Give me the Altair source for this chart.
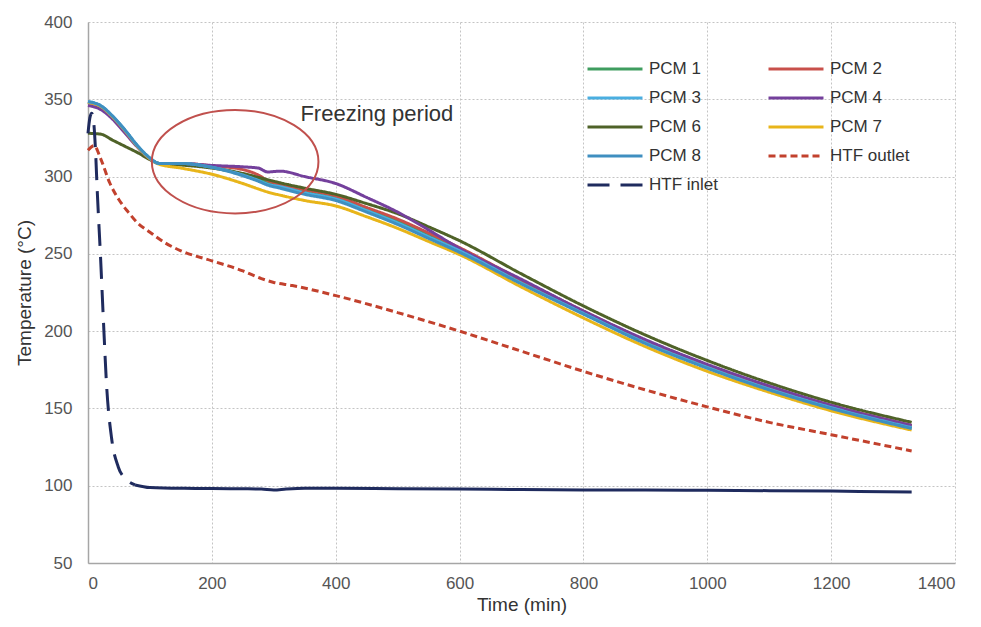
import altair as alt
import pandas as pd

# ---------------- data ----------------
time_pcm = [0, 20, 40, 60, 80, 100, 115, 150, 200, 250, 275, 290, 310, 350, 400,
            450, 500, 550, 600, 700, 800, 900, 1000, 1100, 1200, 1330]

pcm1 = [348, 345.5, 338.5, 329.5, 319.5, 311.5, 308.5, 308, 306, 301.5, 299, 296, 294, 290.5, 287,
        279.5, 271.5, 262.5, 253.5, 232.5, 212, 193, 177, 163, 151, 138]
pcm2 = [348, 345.5, 338.5, 329.5, 319.5, 311.5, 308.5, 308.5, 307, 304.5, 301, 297.5, 295, 291.5, 287.5,
        280, 272.5, 263.5, 254, 233, 213, 194, 178, 164, 152, 139]
pcm3 = [348.5, 346, 339, 330, 320, 312, 308.5, 308.5, 306, 301, 297.5, 295, 293.5, 289.5, 285.5,
        278, 270, 261, 252, 231, 211.5, 192.5, 176.5, 162.5, 150.5, 137.5]
pcm4 = [346, 343.5, 337, 328, 319, 311.5, 308.5, 308.5, 307.2, 306.3, 305.5, 303, 303.5, 300, 295.5,
        286.5, 277, 265.5, 253.5, 233.5, 213, 194.5, 178.5, 164.5, 152, 139]
pcm6 = [328, 327.5, 323.5, 319.5, 315.5, 311, 308.5, 307.5, 305.5, 302, 299.5, 298, 296, 292.5, 288.5,
        282.5, 276, 267.5, 258.5, 237, 216.3, 197.5, 181, 166.5, 154, 141]
pcm7 = [348, 345.5, 338.5, 329.5, 319.5, 311.5, 308, 305.5, 301.5, 295.5, 292, 290, 288, 284.5, 281,
        274, 266.5, 258, 249.5, 228.5, 208.5, 190, 174, 160.5, 148.5, 136]
pcm8 = [348.5, 346, 339, 330, 320, 312, 308.5, 308.5, 306, 300.5, 297, 294.5, 292.5, 288.5, 284.5,
        277, 269, 260, 251, 230.5, 211, 192, 176, 162, 150, 137]

time_outlet = [0, 10, 20, 35, 50, 65, 80, 100, 125, 150, 200, 250, 280, 300, 330, 400,
               500, 600, 700, 800, 900, 1000, 1100, 1200, 1330]
htf_outlet = [317, 320, 312, 296, 285, 277, 270, 264, 257, 252, 245.5, 239, 234, 231.5, 229.5, 223,
              212, 200, 187, 174, 162, 151, 141, 133, 122.5]

time_inlet_drop = [0, 3, 6, 9, 12, 15, 20, 25, 30, 38, 49, 62, 76]
htf_inlet_drop = [328, 338, 341, 336, 318, 290, 250, 206, 165, 131, 112, 104, 100.5]

time_inlet_flat = [76, 100, 150, 200, 250, 280, 300, 320, 350, 400, 500, 600, 700, 800,
                   900, 1000, 1100, 1200, 1330]
htf_inlet_flat = [100.5, 98.8, 98.3, 98.2, 98, 97.8, 97.2, 97.8, 98.3, 98.3, 98, 97.8, 97.5, 97.3,
                  97.2, 97, 96.8, 96.5, 96]

# legend is laid out column by column: left column first, then right column
legend_order = ["PCM 1", "PCM 3", "PCM 6", "PCM 8", "HTF inlet",
                "PCM 2", "PCM 4", "PCM 7", "HTF outlet"]
series_colors = ["#3f9d5f", "#4aaee0", "#4f6228", "#3f8fc0", "#1f2b5e",
                 "#c8504b", "#74409c", "#e8b51a", "#c2412d"]
series_dashes = [[1, 0], [1, 0], [1, 0], [1, 0], [22, 11],
                 [1, 0], [1, 0], [1, 0], [7, 4]]

# drawing order (later drawn on top)
draw_order = [("PCM 1", time_pcm, pcm1), ("PCM 2", time_pcm, pcm2), ("PCM 6", time_pcm, pcm6),
              ("PCM 4", time_pcm, pcm4), ("PCM 7", time_pcm, pcm7), ("PCM 3", time_pcm, pcm3),
              ("PCM 8", time_pcm, pcm8), ("HTF outlet", time_outlet, htf_outlet),
              ("HTF inlet", time_inlet_drop, htf_inlet_drop)]

rows = []
for name, ts, vals in draw_order:
    for t, v in zip(ts, vals):
        rows.append({"series": name, "t": t, "T": v})
df = pd.DataFrame(rows)

df_flat = pd.DataFrame({"t": time_inlet_flat, "T": htf_inlet_flat})

# annotation (ellipse centre and label anchor in data units)
ann_ellipse = pd.DataFrame({"t": [237.6], "T": [309.6]})
ann_text = pd.DataFrame({"t": [343], "T": [340.4], "label": ["Freezing period"]})

FONT = "Liberation Sans"

x_scale = alt.Scale(domain=[0, 1400], nice=False, zero=False)
y_scale = alt.Scale(domain=[50, 400], nice=False, zero=False)

x_axis = alt.Axis(values=list(range(0, 1401, 200)), title="Time (min)", ticks=False,
                  labelPadding=12, titlePadding=4, format="d")
y_axis = alt.Axis(values=list(range(50, 401, 50)), title="Temperature (°C)", ticks=False,
                  labelPadding=16, titlePadding=9, format="d")

legend = alt.Legend(
    orient="none", legendX=516, legendY=36, columns=2, title=None,
    symbolType="M-3,0L3,0", symbolSize=336, symbolStrokeWidth=3,
    labelOffset=23, labelFontSize=17, labelFont=FONT, labelColor="#333333",
    rowPadding=10, columnPadding=44, padding=0, symbolFillColor="transparent",
)

lines = alt.Chart(df).mark_line(strokeWidth=3, interpolate="monotone").encode(
    x=alt.X("t:Q", scale=x_scale, axis=x_axis),
    y=alt.Y("T:Q", scale=y_scale, axis=y_axis),
    color=alt.Color("series:N", scale=alt.Scale(domain=legend_order, range=series_colors),
                    legend=legend),
    strokeDash=alt.StrokeDash("series:N", scale=alt.Scale(domain=legend_order, range=series_dashes),
                              legend=legend),
    detail="series:N",
)

flat = alt.Chart(df_flat).mark_line(strokeWidth=3, color="#1f2b5e", interpolate="monotone").encode(
    x=alt.X("t:Q", scale=x_scale),
    y=alt.Y("T:Q", scale=y_scale),
)

k = 0.5523
r = 0.62
ellipse_path = (f"M-1,0 C-1,{-r*k:.4f} {-k:.4f},{-r} 0,{-r} "
                f"C{k:.4f},{-r} 1,{-r*k:.4f} 1,0 "
                f"C1,{r*k:.4f} {k:.4f},{r} 0,{r} "
                f"C{-k:.4f},{r} -1,{r*k:.4f} -1,0 Z")

ellipse = alt.Chart(ann_ellipse).mark_point(
    shape=ellipse_path, size=27756, filled=False, stroke="#c0504d", strokeWidth=2, opacity=1
).encode(
    x=alt.X("t:Q", scale=x_scale),
    y=alt.Y("T:Q", scale=y_scale),
)

text = alt.Chart(ann_text).mark_text(
    align="left", baseline="middle", font=FONT, fontSize=22, color="#333333"
).encode(
    x=alt.X("t:Q", scale=x_scale),
    y=alt.Y("T:Q", scale=y_scale),
    text="label:N",
)

chart = alt.layer(lines, flat, ellipse, text).properties(
    width=867, height=541,
    autosize=alt.AutoSizeParams(type="none"),
    padding={"left": 80, "top": 14, "right": 10, "bottom": 55},
).configure_view(stroke=None).configure_axis(
    grid=True, gridColor="#c4c4c4", gridDash=[2, 2], gridWidth=1,
    domainColor="#a6a6a6", domainWidth=1.5,
    labelFont=FONT, labelFontSize=17, labelColor="#555555",
    titleFont=FONT, titleFontSize=19, titleColor="#333333", titleFontWeight="normal",
)

chart.save("out.html", embed_options={"renderer": "svg", "actions": False})
